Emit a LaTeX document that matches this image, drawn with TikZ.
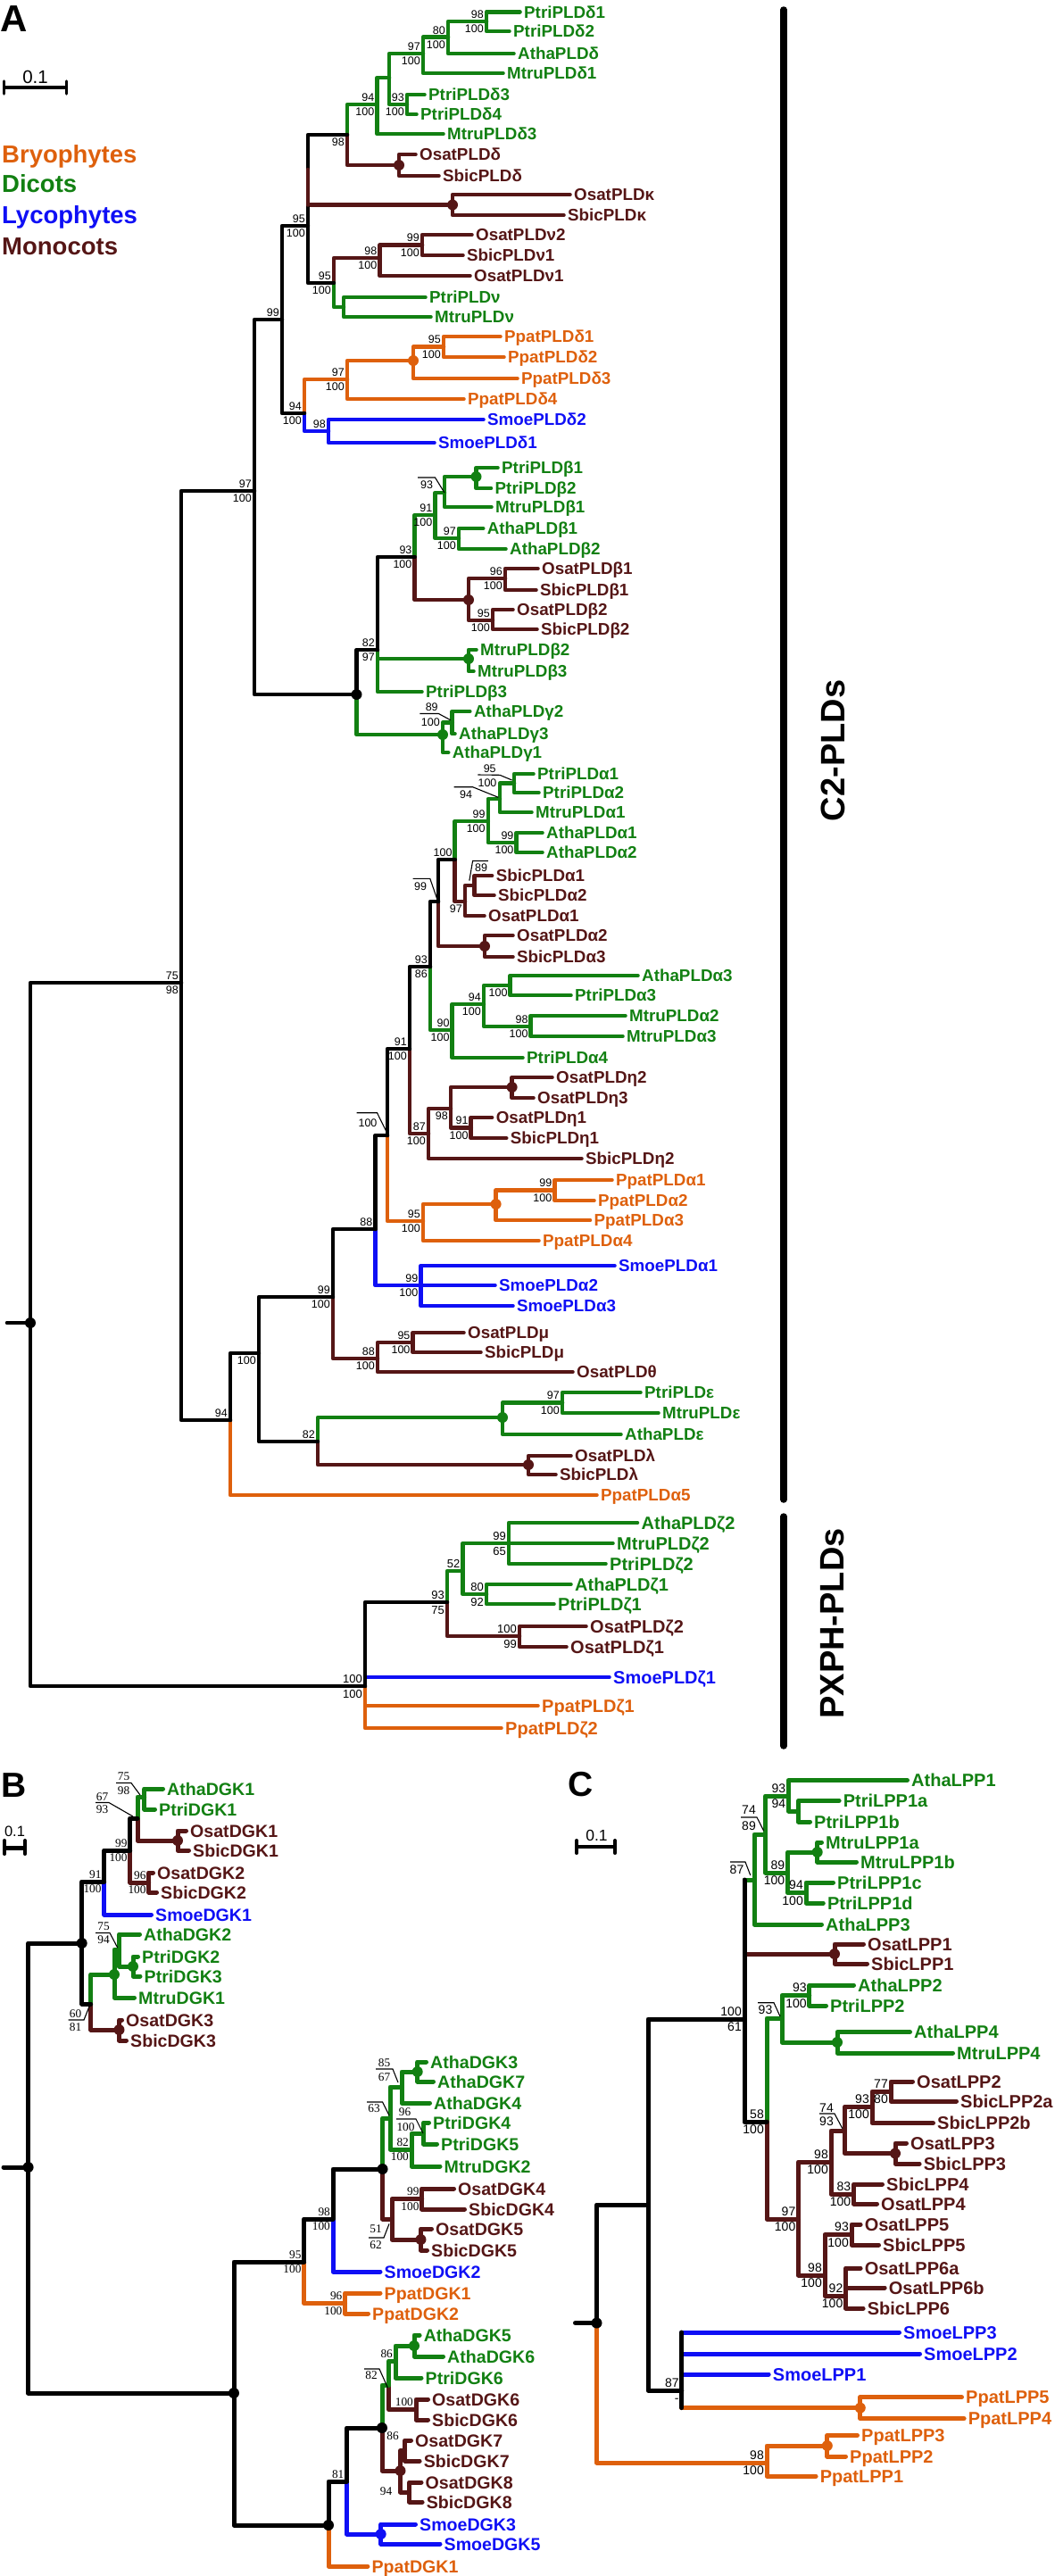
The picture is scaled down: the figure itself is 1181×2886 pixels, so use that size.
\documentclass[tikz,border=0pt]{standalone}
\usepackage{fontspec}
\setmainfont{Liberation Sans}
\newfontfamily\sernum{Liberation Serif}
\definecolor{grn}{RGB}{18,128,18}
\definecolor{org}{RGB}{222,96,12}
\definecolor{blu}{RGB}{15,15,245}
\definecolor{brn}{RGB}{85,22,22}
\newcommand\myleaf[6]{\node[lab,text=#1] (#2) at (#4,#5) {#6};\draw[br,#1] (#3) |- ([xshift=-4.5pt]#2.west);}
\newcommand\myedge[3]{\draw[br,#1] (#2) |- (#3);}
\newcommand\mydot[2]{\fill[#1] (#2) circle (6pt);}
\newcommand\myboot[3]{\path (#1) ++(-3,-3.5) node[num,anchor=south east] (#1-t) {#2} (#1) ++(-3,3.5) node[num,anchor=north east] (#1-u) {#3};}
\newcommand\mytext[4]{\node[num] (#1) at (#2,#3) {#4};}
\begin{document}
\begin{tikzpicture}[x=1pt,y=-1pt]
\useasboundingbox (0,0) rectangle (1181,2886);
% ================= PANEL A =================
\node[anchor=base west,inner sep=0pt,font=\fontsize{42}{44}\selectfont\bfseries] (pA) at (0,35) {A};
\node[anchor=base west,inner sep=0pt,font=\fontsize{27.5}{30}\selectfont\bfseries,text=org] (lg1) at (2,182) {Bryophytes};
\node[anchor=base west,inner sep=0pt,font=\fontsize{27.5}{30}\selectfont\bfseries,text=grn] (lg2) at (2,215) {Dicots};
\node[anchor=base west,inner sep=0pt,font=\fontsize{27.5}{30}\selectfont\bfseries,text=blu] (lg3) at (2,250) {Lycophytes};
\node[anchor=base west,inner sep=0pt,font=\fontsize{27.5}{30}\selectfont\bfseries,text=brn] (lg4) at (2,285) {Monocots};
\coordinate (sa1) at (4.6,98); \coordinate (sa2) at (74.6,98);
\draw[line width=3.5pt] (sa1) -- (sa2);
\draw[line width=3.5pt,line cap=round] (4.6,91) -- (4.6,105) (74.6,91) -- (74.6,105);
\node[anchor=base,inner sep=0pt,font=\fontsize{20.5}{22}\selectfont] (sa) at (39.6,93) {0.1};
\draw[line width=7.5pt,line cap=round] (878,11) -- (878,1680);
\draw[line width=7.5pt,line cap=round] (878,1699) -- (878,1956);
\node[rotate=90,inner sep=0pt,font=\fontsize{38}{40}\selectfont\bfseries] (c2) at (933,841) {C2-PLDs};
\node[rotate=90,inner sep=0pt,font=\fontsize{38}{40}\selectfont\bfseries] (px) at (933,1819) {PXPH-PLDs};

\begin{scope}[br/.style={line width=4.6pt,line cap=round,line join=round},
 lab/.style={anchor=west,inner sep=0pt,font=\fontsize{18.8}{20}\selectfont\bfseries,text height=13.4pt,text depth=0pt},
 num/.style={inner sep=0pt,font=\fontsize{12.5}{13}\selectfont,text height=9pt,text depth=0pt},
 lead/.style={line width=1.1pt}]
\coordinate (Ast) at (8,1482);
\coordinate (Ar) at (34,1482);
\coordinate (N75) at (203,1101);
\coordinate (N97) at (285,550);
\coordinate (N99) at (316,358);
\coordinate (N95a) at (345,253);
\coordinate (N98) at (389,151);
\coordinate (N94d) at (422.5,117);
\coordinate (Nx) at (436,87);
\coordinate (N97d) at (474,60);
\coordinate (N80) at (502,41.7);
\coordinate (N98d) at (545,24);
\coordinate (N93d) at (456,117);
\coordinate (Ndd) at (447,185);
\coordinate (Nk) at (507,229.5);
\coordinate (N95v) at (374,317);
\coordinate (N98v) at (425.5,289);
\coordinate (N99v) at (473,274.5);
\coordinate (Ngv) at (385,344);
\coordinate (N94a) at (341,463);
\coordinate (N97p) at (389,425);
\coordinate (Ndp) at (463,404);
\coordinate (N95p) at (497,388.5);
\coordinate (N98s) at (368,483);
\coordinate (Nbg) at (399.5,778);
\coordinate (N82) at (423,728);
\coordinate (N93b) at (464.6,624);
\coordinate (N91b) at (487.5,577);
\coordinate (N93l) at (498,552);
\coordinate (Ndpb) at (533.5,534);
\coordinate (N97b) at (514,603);
\coordinate (Ndmb) at (525,672);
\coordinate (N96b) at (566,648);
\coordinate (N95b) at (552,695);
\coordinate (Ndm2) at (525,738);
\coordinate (Ngam) at (496,823);
\coordinate (N89g) at (506.7,809.5);
\coordinate (N94b) at (258,1591);
\coordinate (N100c) at (290,1516);
\coordinate (N99c) at (373,1453);
\coordinate (N88a) at (420.5,1377);
\coordinate (N100a) at (434,1272);
\coordinate (N91a) at (459,1175);
\coordinate (N93a) at (482,1083);
\coordinate (N99l) at (491,1010);
\coordinate (N100t) at (509.7,963);
\coordinate (N99d) at (546.8,920);
\coordinate (N94l) at (560,895);
\coordinate (N95l) at (576,877.5);
\coordinate (N99at) at (578.6,944);
\coordinate (N97m) at (521,1010);
\coordinate (N89s) at (531.5,992);
\coordinate (Nda2) at (543,1060);
\coordinate (N90a) at (506.7,1154);
\coordinate (N94a3) at (542,1125);
\coordinate (N100a3) at (571.7,1104);
\coordinate (N98a3) at (594.7,1150);
\coordinate (N87e) at (480,1270);
\coordinate (N98e) at (505,1242);
\coordinate (Nde) at (573.6,1218);
\coordinate (N91e) at (527.7,1263.5);
\coordinate (N95pa) at (474,1368);
\coordinate (Ndpa) at (555.6,1349);
\coordinate (N99pa) at (621.5,1333.5);
\coordinate (N99s) at (471.5,1440);
\coordinate (N88m) at (423,1522);
\coordinate (N95m) at (462.6,1504);
\coordinate (N82c) at (356,1615);
\coordinate (Nde2) at (563,1588);
\coordinate (N97e) at (630,1571.5);
\coordinate (Ndl) at (592,1641);
\coordinate (NPX) at (409,1889);
\coordinate (N93x) at (501,1795);
\coordinate (N52) at (518.6,1760);
\coordinate (N99x) at (570,1729);
\coordinate (N80x) at (545,1786);
\coordinate (N100x) at (582,1833);
% leaves
\myleaf{grn}{a1}{N98d}{587}{13.3}{PtriPLDδ1}
\myleaf{grn}{a2}{N98d}{575}{35}{PtriPLDδ2}
\myleaf{grn}{a3}{N80}{580}{60}{AthaPLDδ}
\myleaf{grn}{a4}{N97d}{568}{82}{MtruPLDδ1}
\myleaf{grn}{a5}{N93d}{480}{106}{PtriPLDδ3}
\myleaf{grn}{a6}{N93d}{471}{128}{PtriPLDδ4}
\myleaf{grn}{a7}{N94d}{501}{150}{MtruPLDδ3}
\myleaf{brn}{a8}{Ndd}{470}{173}{OsatPLDδ}
\myleaf{brn}{a9}{Ndd}{496}{197}{SbicPLDδ}
\myleaf{brn}{a10}{Nk}{643}{218}{OsatPLDκ}
\myleaf{brn}{a11}{Nk}{636}{241}{SbicPLDκ}
\myleaf{brn}{a12}{N99v}{533}{263}{OsatPLDν2}
\myleaf{brn}{a13}{N99v}{523}{286}{SbicPLDν1}
\myleaf{brn}{a14}{N98v}{531}{309}{OsatPLDν1}
\myleaf{grn}{a15}{Ngv}{481}{333}{PtriPLDν}
\myleaf{grn}{a16}{Ngv}{487}{355}{MtruPLDν}
\myleaf{org}{a17}{N95p}{565}{377}{PpatPLDδ1}
\myleaf{org}{a18}{N95p}{569}{400}{PpatPLDδ2}
\myleaf{org}{a19}{Ndp}{584}{424}{PpatPLDδ3}
\myleaf{org}{a20}{N97p}{524}{447}{PpatPLDδ4}
\myleaf{blu}{a21}{N98s}{546}{470}{SmoePLDδ2}
\myleaf{blu}{a22}{N98s}{491}{496}{SmoePLDδ1}
\myleaf{grn}{a23}{Ndpb}{562}{524}{PtriPLDβ1}
\myleaf{grn}{a24}{Ndpb}{554.5}{547}{PtriPLDβ2}
\myleaf{grn}{a25}{N93l}{555}{568}{MtruPLDβ1}
\myleaf{grn}{a26}{N97b}{545.7}{592}{AthaPLDβ1}
\myleaf{grn}{a27}{N97b}{571}{615}{AthaPLDβ2}
\myleaf{brn}{a28}{N96b}{607}{637}{OsatPLDβ1}
\myleaf{brn}{a29}{N96b}{605}{661}{SbicPLDβ1}
\myleaf{brn}{a30}{N95b}{579}{683}{OsatPLDβ2}
\myleaf{brn}{a31}{N95b}{606}{705}{SbicPLDβ2}
\myleaf{grn}{a32}{Ndm2}{538}{728}{MtruPLDβ2}
\myleaf{grn}{a33}{Ndm2}{535}{752}{MtruPLDβ3}
\myleaf{grn}{a34}{N82}{477}{775}{PtriPLDβ3}
\myleaf{grn}{a35}{N89g}{530.8}{797}{AthaPLDγ2}
\myleaf{grn}{a36}{N89g}{514}{822}{AthaPLDγ3}
\myleaf{grn}{a37}{Ngam}{506.7}{843}{AthaPLDγ1}
\myleaf{grn}{a38}{N95l}{602}{867}{PtriPLDα1}
\myleaf{grn}{a39}{N95l}{608}{888}{PtriPLDα2}
\myleaf{grn}{a40}{N94l}{600}{910}{MtruPLDα1}
\myleaf{grn}{a41}{N99at}{612}{933}{AthaPLDα1}
\myleaf{grn}{a42}{N99at}{612}{955}{AthaPLDα2}
\myleaf{brn}{a43}{N89s}{555.6}{981}{SbicPLDα1}
\myleaf{brn}{a44}{N89s}{558}{1003}{SbicPLDα2}
\myleaf{brn}{a45}{N97m}{547}{1026}{OsatPLDα1}
\myleaf{brn}{a46}{Nda2}{579}{1048}{OsatPLDα2}
\myleaf{brn}{a47}{Nda2}{579}{1072}{SbicPLDα3}
\myleaf{grn}{a48}{N100a3}{719}{1093}{AthaPLDα3}
\myleaf{grn}{a49}{N100a3}{644}{1115}{PtriPLDα3}
\myleaf{grn}{a50}{N98a3}{705}{1138}{MtruPLDα2}
\myleaf{grn}{a51}{N98a3}{702}{1161}{MtruPLDα3}
\myleaf{grn}{a52}{N90a}{590}{1185}{PtriPLDα4}
\myleaf{brn}{a53}{Nde}{623}{1207}{OsatPLDη2}
\myleaf{brn}{a54}{Nde}{602}{1230}{OsatPLDη3}
\myleaf{brn}{a55}{N91e}{555.6}{1252}{OsatPLDη1}
\myleaf{brn}{a56}{N91e}{571.7}{1275}{SbicPLDη1}
\myleaf{brn}{a57}{N87e}{656}{1298}{SbicPLDη2}
\myleaf{org}{a58}{N99pa}{690}{1322}{PpatPLDα1}
\myleaf{org}{a59}{N99pa}{670}{1345}{PpatPLDα2}
\myleaf{org}{a60}{Ndpa}{665.5}{1367}{PpatPLDα3}
\myleaf{org}{a61}{N95pa}{608}{1390}{PpatPLDα4}
\myleaf{blu}{a62}{N99s}{693}{1418}{SmoePLDα1}
\myleaf{blu}{a63}{N99s}{559}{1440}{SmoePLDα2}
\myleaf{blu}{a64}{N99s}{579}{1463}{SmoePLDα3}
\myleaf{brn}{a65}{N95m}{524}{1493}{OsatPLDμ}
\myleaf{brn}{a66}{N95m}{543}{1515}{SbicPLDμ}
\myleaf{brn}{a67}{N88m}{646}{1537}{OsatPLDθ}
\myleaf{grn}{a68}{N97e}{722}{1560}{PtriPLDε}
\myleaf{grn}{a69}{N97e}{742}{1583}{MtruPLDε}
\myleaf{grn}{a70}{Nde2}{700}{1607}{AthaPLDε}
\myleaf{brn}{a71}{Ndl}{644}{1631}{OsatPLDλ}
\myleaf{brn}{a72}{Ndl}{627}{1652}{SbicPLDλ}
\myleaf{org}{a73}{N94b}{673}{1675}{PpatPLDα5}
\begin{scope}[lab/.style={anchor=west,inner sep=0pt,font=\fontsize{20}{22}\selectfont\bfseries,text height=14.3pt,text depth=0pt},
 num/.style={inner sep=0pt,font=\fontsize{13}{14}\selectfont,text height=9.3pt,text depth=0pt}]
\myleaf{grn}{a74}{N99x}{718.5}{1706}{AthaPLDζ2}
\myleaf{grn}{a75}{N99x}{691}{1729}{MtruPLDζ2}
\myleaf{grn}{a76}{N99x}{683}{1752}{PtriPLDζ2}
\myleaf{grn}{a77}{N80x}{644}{1775}{AthaPLDζ1}
\myleaf{grn}{a78}{N80x}{625}{1797}{PtriPLDζ1}
\myleaf{brn}{a79}{N100x}{661}{1822}{OsatPLDζ2}
\myleaf{brn}{a80}{N100x}{639}{1845}{OsatPLDζ1}
\myleaf{blu}{a81}{NPX}{687}{1879}{SmoePLDζ1}
\myleaf{org}{a82}{NPX}{607}{1911}{PpatPLDζ1}
\myleaf{org}{a83}{NPX}{566}{1936}{PpatPLDζ2}
\myboot{N93x}{93}{75}
\myboot{N52}{52}{}
\myboot{N99x}{99}{65}
\myboot{N80x}{80}{92}
\myboot{N100x}{100}{99}
\myboot{NPX}{100}{100}
\end{scope}
% coloured internal edges
\myedge{brn}{N95a}{Nk}
\myedge{grn}{N98}{N94d} \myedge{brn}{N98}{Ndd}
\myedge{grn}{N94d}{Nx}
\myedge{grn}{Nx}{N97d} \myedge{grn}{Nx}{N93d}
\myedge{grn}{N97d}{N80}
\myedge{grn}{N80}{N98d}
\myedge{brn}{N95v}{N98v} \myedge{grn}{N95v}{Ngv}
\myedge{brn}{N98v}{N99v}
\myedge{org}{N94a}{N97p} \myedge{blu}{N94a}{N98s}
\myedge{org}{N97p}{Ndp}
\myedge{org}{Ndp}{N95p}
\myedge{grn}{Nbg}{Ngam}
\myedge{grn}{N82}{Ndm2}
\myedge{grn}{N93b}{N91b} \myedge{brn}{N93b}{Ndmb}
\myedge{grn}{N91b}{N93l} \myedge{grn}{N91b}{N97b}
\myedge{grn}{N93l}{Ndpb}
\myedge{brn}{Ndmb}{N96b} \myedge{brn}{Ndmb}{N95b}
\myedge{grn}{Ngam}{N89g}
\myedge{brn}{N99c}{N88m}
\myedge{blu}{N88a}{N99s}
\myedge{org}{N100a}{N95pa}
\myedge{brn}{N91a}{N87e}
\myedge{grn}{N93a}{N90a}
\myedge{brn}{N99l}{Nda2}
\myedge{grn}{N100t}{N99d} \myedge{brn}{N100t}{N97m}
\myedge{grn}{N99d}{N94l} \myedge{grn}{N99d}{N99at}
\myedge{grn}{N94l}{N95l}
\myedge{brn}{N97m}{N89s}
\myedge{grn}{N90a}{N94a3}
\myedge{grn}{N94a3}{N100a3} \myedge{grn}{N94a3}{N98a3}
\myedge{brn}{N87e}{N98e}
\myedge{brn}{N98e}{Nde} \myedge{brn}{N98e}{N91e}
\myedge{org}{N95pa}{Ndpa}
\myedge{org}{Ndpa}{N99pa}
\myedge{brn}{N88m}{N95m}
\myedge{grn}{N82c}{Nde2} \myedge{brn}{N82c}{Ndl}
\myedge{grn}{Nde2}{N97e}
\myedge{grn}{N93x}{N52} \myedge{brn}{N93x}{N100x}
\myedge{grn}{N52}{N99x} \myedge{grn}{N52}{N80x}
% black edges
\draw[br] (Ast) -- (Ar);
\myedge{black}{Ar}{N75} \myedge{black}{Ar}{NPX}
\myedge{black}{N75}{N97} \myedge{black}{N75}{N94b}
\myedge{black}{N97}{N99} \myedge{black}{N97}{Nbg}
\myedge{black}{N99}{N95a} \myedge{black}{N99}{N94a}
\myedge{black}{N95a}{N98} \myedge{black}{N95a}{N95v}
\myedge{black}{Nbg}{N82}
\myedge{black}{N82}{N93b}
\myedge{black}{N94b}{N100c}
\myedge{black}{N100c}{N99c} \myedge{black}{N100c}{N82c}
\myedge{black}{N99c}{N88a}
\myedge{black}{N88a}{N100a}
\myedge{black}{N100a}{N91a}
\myedge{black}{N91a}{N93a}
\myedge{black}{N93a}{N99l}
\myedge{black}{N99l}{N100t}
\myedge{black}{NPX}{N93x}
\draw[br,brn] (345,190) -- (Nk -| N95a);
% dots
\mydot{brn}{Ndd} \mydot{brn}{Nk} \mydot{org}{Ndp} \mydot{grn}{Ndpb} \mydot{brn}{Ndmb}
\mydot{grn}{Ndm2} \mydot{grn}{Ngam} \mydot{black}{Nbg} \mydot{brn}{Nda2} \mydot{brn}{Nde}
\mydot{org}{Ndpa} \mydot{grn}{Nde2} \mydot{brn}{Ndl} \mydot{black}{Ar}
% bootstrap values
\myboot{N98d}{98}{100} \myboot{N80}{80}{100} \myboot{N97d}{97}{100} \myboot{N93d}{93}{100}
\myboot{N94d}{94}{100} \myboot{N98}{}{98} \myboot{N95a}{95}{100} \myboot{N99v}{99}{100}
\myboot{N98v}{98}{100} \myboot{N95v}{95}{100} \myboot{N99}{99}{} \myboot{N95p}{95}{100}
\myboot{N97p}{97}{100} \myboot{N94a}{94}{100} \myboot{N98s}{98}{} \myboot{N97}{97}{100}
\myboot{N91b}{91}{100} \myboot{N97b}{97}{100} \myboot{N93b}{93}{100} \myboot{N96b}{96}{100}
\myboot{N95b}{95}{100} \myboot{N82}{82}{97} \myboot{N99d}{99}{100} \myboot{N99at}{99}{100}
\myboot{N100t}{100}{} \myboot{N97m}{}{97} \myboot{N93a}{93}{86} \myboot{N94a3}{94}{100}
\myboot{N100a3}{}{100} \myboot{N98a3}{98}{100} \myboot{N90a}{90}{100} \myboot{N91a}{91}{100}
\myboot{N87e}{87}{100} \myboot{N98e}{}{98} \myboot{N91e}{91}{100} \myboot{N99pa}{99}{100}
\myboot{N95pa}{95}{100} \myboot{N88a}{88}{} \myboot{N99s}{99}{100} \myboot{N99c}{99}{100}
\myboot{N95m}{95}{100} \myboot{N88m}{88}{100} \myboot{N100c}{}{100} \myboot{N97e}{97}{100}
\myboot{N82c}{82}{} \myboot{N94b}{94}{} \myboot{N75}{75}{98}
% leader labels
\mytext{ta1}{478}{543}{93} \draw[lead] (468,535) -- (487.5,535) -- (N93l);
\mytext{ta2}{483.7}{791.5}{89} \mytext{ta3}{482.4}{809}{100} \draw[lead] (470.3,799.5) -- (491.4,799.5) -- (504.7,806.7);
\mytext{ta4}{548.7}{860.7}{95} \mytext{ta5}{546}{876.7}{100} \draw[lead] (535.4,868) -- (560,868.3) -- (573.6,874);
\mytext{ta6}{522}{890}{94} \draw[lead] (508.6,881.7) -- (529.6,881.7) -- (558.3,893.3);
\mytext{ta7}{539}{972}{89} \draw[lead] (546.8,964.5) -- (529.6,964.5) -- (525.8,986.7);
\mytext{ta8}{471}{993}{99} \draw[lead] (462.6,984.3) -- (481.8,984.3) -- (490,1008);
\mytext{ta9}{412}{1258}{100} \draw[lead] (399.5,1246.7) -- (422.5,1246.7) -- (433,1268);
\end{scope}

% ================= PANEL B =================
\node[anchor=base west,inner sep=0pt,font=\fontsize{39}{42}\selectfont\bfseries] (pB) at (1,2013) {B};
\draw[line width=5pt] (5,2070) -- (28,2070);
\draw[line width=4pt,line cap=round] (5,2062) -- (5,2077) (28,2062) -- (28,2077);
\node[anchor=base,inner sep=0pt,font=\fontsize{16.5}{18}\selectfont] (sb) at (16.5,2057) {0.1};
\begin{scope}[br/.style={line width=5pt,line cap=round,line join=round},
 lab/.style={anchor=west,inner sep=0pt,font=\fontsize{19.6}{22}\selectfont\bfseries,text height=14pt,text depth=0pt},
 num/.style={inner sep=0pt,font=\sernum\fontsize{13.3}{14}\selectfont,text height=9pt,text depth=0pt},
 lead/.style={line width=1.1pt}]
\coordinate (Bst) at (4,2428);
\coordinate (Br) at (31.6,2428);
\coordinate (NB1) at (91.7,2177);
\coordinate (NB91) at (116.7,2108);
\coordinate (NB99) at (145.7,2073);
\coordinate (NB67) at (154,2037);
\coordinate (NB75) at (161.7,2013);
\coordinate (NBd1) at (199,2062);
\coordinate (NB96) at (166.7,2109);
\coordinate (NB60) at (101.7,2245);
\coordinate (NBg1) at (128,2212);
\coordinate (NB75b) at (133.5,2184);
\coordinate (NBdp) at (149,2203);
\coordinate (NBd3) at (133.5,2274);
\coordinate (NB2) at (262,2681);
\coordinate (NB95) at (340.6,2534);
\coordinate (NB98) at (373,2486);
\coordinate (NBD) at (428.6,2430);
\coordinate (NBE) at (437,2373);
\coordinate (NBG3) at (450,2338);
\coordinate (NBd37) at (467.7,2321);
\coordinate (NB82) at (461,2408);
\coordinate (NB96t) at (474.6,2390);
\coordinate (NBF) at (439,2486);
\coordinate (NB99b) at (472.6,2463.5);
\coordinate (NBd5) at (471.5,2509);
\coordinate (NB96p) at (386.5,2580.5);
\coordinate (NBdL) at (368,2829);
\coordinate (NB81) at (388.5,2780);
\coordinate (NBdU) at (428,2720);
\coordinate (NB82b) at (435.5,2672);
\coordinate (NB86) at (443,2645);
\coordinate (NBd56) at (464,2628);
\coordinate (NB100b) at (466,2699.5);
\coordinate (NBd78) at (448.5,2768);
\coordinate (NB86b) at (453.5,2745.5);
\coordinate (NB94) at (458.5,2792);
\coordinate (NBdS) at (426.7,2839);
\myleaf{grn}{b1}{NB75}{187}{2004}{AthaDGK1}
\myleaf{grn}{b2}{NB75}{178}{2027}{PtriDGK1}
\myleaf{brn}{b3}{NBd1}{213}{2051}{OsatDGK1}
\myleaf{brn}{b4}{NBd1}{216}{2073}{SbicDGK1}
\myleaf{brn}{b5}{NB96}{176}{2098}{OsatDGK2}
\myleaf{brn}{b6}{NB96}{180}{2120}{SbicDGK2}
\myleaf{blu}{b7}{NB91}{174}{2145}{SmoeDGK1}
\myleaf{grn}{b8}{NB75b}{161}{2167}{AthaDGK2}
\myleaf{grn}{b9}{NBdp}{159}{2192}{PtriDGK2}
\myleaf{grn}{b10}{NBdp}{161.5}{2214}{PtriDGK3}
\myleaf{grn}{b11}{NBg1}{155}{2238}{MtruDGK1}
\myleaf{brn}{b12}{NBd3}{141}{2263}{OsatDGK3}
\myleaf{brn}{b13}{NBd3}{146}{2286}{SbicDGK3}
\myleaf{grn}{b14}{NBd37}{482}{2310}{AthaDGK3}
\myleaf{grn}{b15}{NBd37}{490}{2332}{AthaDGK7}
\myleaf{grn}{b16}{NBG3}{486}{2356}{AthaDGK4}
\myleaf{grn}{b17}{NB96t}{485}{2378}{PtriDGK4}
\myleaf{grn}{b18}{NB96t}{494}{2402}{PtriDGK5}
\myleaf{grn}{b19}{NB82}{497.5}{2427}{MtruDGK2}
\myleaf{brn}{b20}{NB99b}{513}{2452}{OsatDGK4}
\myleaf{brn}{b21}{NB99b}{525}{2475}{SbicDGK4}
\myleaf{brn}{b22}{NBd5}{488}{2497}{OsatDGK5}
\myleaf{brn}{b23}{NBd5}{483}{2521}{SbicDGK5}
\myleaf{blu}{b24}{NB98}{430.5}{2545}{SmoeDGK2}
\myleaf{org}{b25}{NB96p}{430.5}{2569}{PpatDGK1}
\myleaf{org}{b26}{NB96p}{417}{2592}{PpatDGK2}
\myleaf{grn}{b27}{NBd56}{474.6}{2616}{AthaDGK5}
\myleaf{grn}{b28}{NBd56}{501}{2640}{AthaDGK6}
\myleaf{grn}{b29}{NB86}{476.5}{2664}{PtriDGK6}
\myleaf{brn}{b30}{NB100b}{484}{2688}{OsatDGK6}
\myleaf{brn}{b31}{NB100b}{484}{2711}{SbicDGK6}
\myleaf{brn}{b32}{NB86b}{465}{2734}{OsatDGK7}
\myleaf{brn}{b33}{NB86b}{474.6}{2757}{SbicDGK7}
\myleaf{brn}{b34}{NB94}{476.5}{2781}{OsatDGK8}
\myleaf{brn}{b35}{NB94}{477.6}{2803}{SbicDGK8}
\myleaf{blu}{b36}{NBdS}{470}{2828}{SmoeDGK3}
\myleaf{blu}{b37}{NBdS}{497.5}{2850}{SmoeDGK5}
\myleaf{org}{b38}{NBdL}{416.4}{2875}{PpatDGK1}
\myedge{brn}{NB99}{NB96} \myedge{brn}{NB67}{NBd1} \myedge{brn}{NB60}{NBd3}
\myedge{brn}{NBD}{NBF} \myedge{brn}{NBF}{NB99b} \myedge{brn}{NBF}{NBd5}
\myedge{brn}{NBdU}{NBd78} \myedge{brn}{NB82b}{NB100b}
\myedge{brn}{NBd78}{NB86b} \myedge{brn}{NBd78}{NB94}
\myedge{grn}{NB67}{NB75} \myedge{grn}{NB60}{NBg1} \myedge{grn}{NBg1}{NB75b}
\myedge{grn}{NB75b}{NBdp} \myedge{grn}{NBD}{NBE} \myedge{grn}{NBE}{NBG3}
\myedge{grn}{NBE}{NB82} \myedge{grn}{NBG3}{NBd37} \myedge{grn}{NB82}{NB96t}
\myedge{grn}{NBdU}{NB82b} \myedge{grn}{NB82b}{NB86} \myedge{grn}{NB86}{NBd56}
\myedge{org}{NB95}{NB96p}
\myedge{blu}{NB81}{NBdS}
\draw[br] (Bst) -- (Br);
\myedge{black}{Br}{NB1} \myedge{black}{Br}{NB2}
\myedge{black}{NB1}{NB91} \myedge{black}{NB1}{NB60}
\myedge{black}{NB91}{NB99} \myedge{black}{NB99}{NB67}
\myedge{black}{NB2}{NB95} \myedge{black}{NB2}{NBdL}
\myedge{black}{NB95}{NB98} \myedge{black}{NB98}{NBD}
\myedge{black}{NBdL}{NB81} \myedge{black}{NB81}{NBdU}
\mydot{black}{NB1} \mydot{brn}{NBd1} \mydot{grn}{NBg1} \mydot{grn}{NBdp} \mydot{brn}{NBd3}
\mydot{black}{Br} \mydot{black}{NB2} \mydot{black}{NBD} \mydot{grn}{NBd37} \mydot{brn}{NBd5}
\mydot{black}{NBdL} \mydot{black}{NBdU} \mydot{grn}{NBd56} \mydot{brn}{NBd78} \mydot{blu}{NBdS}
\myboot{NB91}{91}{100} \myboot{NB99}{99}{100} \myboot{NB96}{96}{100} \myboot{NB95}{95}{100}
\myboot{NB98}{98}{100} \myboot{NB82}{82}{100} \myboot{NB99b}{99}{100} \myboot{NB96p}{96}{100}
\myboot{NB81}{81}{} \myboot{NB86}{86}{} \myboot{NB100b}{100}{}
\mytext{tb1}{440}{2729}{86} \mytext{tb2}{432.5}{2791}{94}
\mytext{tb3}{138.5}{1990}{75} \mytext{tb4}{138.5}{2006}{98} \draw[lead] (130,1997.5) -- (147,1997.5) -- (157,2011);
\mytext{tb5}{114.5}{2013}{67} \mytext{tb6}{114.5}{2027}{93} \draw[lead] (107,2019.5) -- (122,2019.5) -- (149,2035);
\mytext{tb7}{116}{2158}{75} \mytext{tb8}{116}{2173}{94} \draw[lead] (107,2165.5) -- (123,2165.5) -- (131.7,2182);
\mytext{tb9}{84.5}{2256}{60} \mytext{tb10}{84.5}{2271}{81} \draw[lead] (76.5,2263) -- (94,2263) -- (100,2248);
\mytext{tb11}{430.5}{2311}{85} \mytext{tb12}{430.5}{2327}{67} \draw[lead] (421,2318) -- (440,2318) -- (446,2333);
\mytext{tb13}{419}{2362}{63} \draw[lead] (411,2355) -- (428.6,2355) -- (436,2370);
\mytext{tb14}{453.5}{2366}{96} \mytext{tb15}{454.5}{2383}{100} \draw[lead] (444,2374) -- (466,2374) -- (474,2390);
\mytext{tb16}{421}{2497}{51} \mytext{tb17}{421}{2515}{62} \draw[lead] (413,2507) -- (430,2507) -- (436,2491.5);
\mytext{tb18}{416}{2661}{82} \draw[lead] (408,2654) -- (425,2654) -- (434.4,2675);
\end{scope}

% ================= PANEL C =================
\node[anchor=base west,inner sep=0pt,font=\fontsize{39}{42}\selectfont\bfseries] (pC) at (636,2012) {C};
\draw[line width=4.5pt] (646,2069) -- (689,2069);
\draw[line width=4pt,line cap=round] (646,2062) -- (646,2076) (689,2062) -- (689,2076);
\node[anchor=base,inner sep=0pt,font=\fontsize{17.5}{19}\selectfont] (sc) at (668.5,2062) {0.1};
\begin{scope}[br/.style={line width=5pt,line cap=round,line join=round},
 lab/.style={anchor=west,inner sep=0pt,font=\fontsize{20}{22}\selectfont\bfseries,text height=14.3pt,text depth=0pt},
 num/.style={inner sep=0pt,font=\fontsize{14}{15}\selectfont,text height=10pt,text depth=0pt},
 lead/.style={line width=1.1pt}]
\coordinate (Cst) at (644.5,2602.5);
\coordinate (Cr) at (668.5,2602.5);
\coordinate (NC1) at (726,2470);
\coordinate (NC100) at (834,2262);
\coordinate (NCG) at (845,2106);
\coordinate (NC74) at (857.5,2055);
\coordinate (NC93) at (883.4,2012);
\coordinate (NC1ab) at (894.5,2029);
\coordinate (NC89) at (882.3,2098);
\coordinate (NCdM) at (915.7,2075);
\coordinate (NC94) at (903,2120.5);
\coordinate (NCd1) at (935,2189);
\coordinate (NC58) at (859,2377);
\coordinate (NC93g) at (876,2261);
\coordinate (NC93a) at (906.8,2235.5);
\coordinate (NCd4) at (938,2288);
\coordinate (NC97) at (894.5,2486);
\coordinate (NC98b) at (931,2422);
\coordinate (NC74b) at (946.4,2387);
\coordinate (NC93b) at (977,2360);
\coordinate (NC77) at (998,2343);
\coordinate (NCd3) at (1003,2412.5);
\coordinate (NC83) at (956.4,2458);
\coordinate (NC98c) at (924,2549);
\coordinate (NC93c) at (954,2503.5);
\coordinate (NC92) at (947.5,2572);
\coordinate (NC87) at (763.8,2678);
\coordinate (NCdP) at (963.8,2697.6);
\coordinate (NC98) at (859,2759);
\coordinate (NCdP2) at (926.8,2740);
\myleaf{grn}{c1}{NC93}{1021}{1994.5}{AthaLPP1}
\myleaf{grn}{c2}{NC1ab}{944.6}{2017.3}{PtriLPP1a}
\myleaf{grn}{c3}{NC1ab}{912}{2041}{PtriLPP1b}
\myleaf{grn}{c4}{NCdM}{925}{2064}{MtruLPP1a}
\myleaf{grn}{c5}{NCdM}{964}{2086}{MtruLPP1b}
\myleaf{grn}{c6}{NC94}{938}{2109}{PtriLPP1c}
\myleaf{grn}{c7}{NC94}{926.8}{2132}{PtriLPP1d}
\myleaf{grn}{c8}{NCG}{925}{2156}{AthaLPP3}
\myleaf{brn}{c9}{NCd1}{972}{2178}{OsatLPP1}
\myleaf{brn}{c10}{NCd1}{976}{2200}{SbicLPP1}
\myleaf{grn}{c11}{NC93a}{961}{2224}{AthaLPP2}
\myleaf{grn}{c12}{NC93a}{930}{2247}{PtriLPP2}
\myleaf{grn}{c13}{NCd4}{1024}{2276.5}{AthaLPP4}
\myleaf{grn}{c14}{NCd4}{1072}{2300}{MtruLPP4}
\myleaf{brn}{c15}{NC77}{1027}{2332}{OsatLPP2}
\myleaf{brn}{c16}{NC77}{1076}{2354}{SbicLPP2a}
\myleaf{brn}{c17}{NC93b}{1050}{2378.5}{SbicLPP2b}
\myleaf{brn}{c18}{NCd3}{1020}{2401}{OsatLPP3}
\myleaf{brn}{c19}{NCd3}{1034.6}{2424}{SbicLPP3}
\myleaf{brn}{c20}{NC83}{993}{2447}{SbicLPP4}
\myleaf{brn}{c21}{NC83}{987}{2469}{OsatLPP4}
\myleaf{brn}{c22}{NC93c}{968.6}{2492}{OsatLPP5}
\myleaf{brn}{c23}{NC93c}{989}{2515}{SbicLPP5}
\myleaf{brn}{c24}{NC92}{968.6}{2541}{OsatLPP6a}
\myleaf{brn}{c25}{NC92}{995.7}{2563}{OsatLPP6b}
\myleaf{brn}{c26}{NC92}{971.6}{2586}{SbicLPP6}
\myleaf{blu}{c27}{NC87}{1012}{2613}{SmoeLPP3}
\myleaf{blu}{c28}{NC87}{1035}{2637}{SmoeLPP2}
\myleaf{blu}{c29}{NC87}{865.7}{2660}{SmoeLPP1}
\myleaf{org}{c30}{NCdP}{1082}{2685.6}{PpatLPP5}
\myleaf{org}{c31}{NCdP}{1084.6}{2709.6}{PpatLPP4}
\myleaf{org}{c32}{NCdP2}{965}{2728.4}{PpatLPP3}
\myleaf{org}{c33}{NCdP2}{952}{2752}{PpatLPP2}
\myleaf{org}{c34}{NC98}{918.6}{2774}{PpatLPP1}
\myedge{grn}{NC100}{NCG} \myedge{grn}{NCG}{NC74} \myedge{grn}{NC74}{NC93}
\myedge{grn}{NC74}{NC89} \myedge{grn}{NC93}{NC1ab} \myedge{grn}{NC89}{NCdM}
\myedge{grn}{NC89}{NC94} \myedge{grn}{NC58}{NC93g} \myedge{grn}{NC93g}{NC93a}
\myedge{grn}{NC93g}{NCd4}
\myedge{brn}{NC100}{NCd1} \myedge{brn}{NC58}{NC97} \myedge{brn}{NC97}{NC98b}
\myedge{brn}{NC97}{NC98c} \myedge{brn}{NC98b}{NC74b} \myedge{brn}{NC98b}{NC83}
\myedge{brn}{NC74b}{NC93b} \myedge{brn}{NC74b}{NCd3} \myedge{brn}{NC93b}{NC77}
\myedge{brn}{NC98c}{NC93c} \myedge{brn}{NC98c}{NC92}
\myedge{org}{Cr}{NC98} \myedge{org}{NC98}{NCdP2} \myedge{org}{NC87}{NCdP}
\draw[br] (Cst) -- (Cr);
\myedge{black}{Cr}{NC1} \myedge{black}{NC1}{NC100} \myedge{black}{NC1}{NC87}
\myedge{black}{NC100}{NC58}
\draw[br] (NCG -| NC100) -- (NC58 -| NC100);
\draw[br] (c27 -| NC87) -- (NCdP -| NC87);
\mydot{black}{Cr} \mydot{grn}{NCdM} \mydot{brn}{NCd1} \mydot{grn}{NCd4} \mydot{brn}{NCd3}
\mydot{org}{NCdP} \mydot{org}{NCdP2}
\myboot{NC100}{100}{61} \myboot{NC93}{93}{94} \myboot{NC89}{89}{100} \myboot{NC94}{94}{100}
\myboot{NC58}{58}{100} \myboot{NC93a}{93}{100} \myboot{NC97}{97}{100} \myboot{NC98b}{98}{100}
\myboot{NC93b}{93}{100} \myboot{NC77}{77}{80} \myboot{NC83}{83}{100} \myboot{NC98c}{98}{100}
\myboot{NC93c}{93}{100} \myboot{NC92}{92}{100} \myboot{NC98}{98}{100} \myboot{NC87}{87}{-}
\mytext{tc1}{825.5}{2094}{87} \draw[lead] (818,2086) -- (835,2086) -- (840.8,2101);
\mytext{tc2}{839}{2027.7}{74} \mytext{tc3}{839}{2045}{89} \draw[lead] (830,2036) -- (848,2036) -- (855.6,2051);
\mytext{tc4}{857.5}{2251.6}{93} \draw[lead] (849,2243.7) -- (867,2243.7) -- (874,2259);
\mytext{tc5}{926}{2361}{74} \mytext{tc6}{926}{2376}{93} \draw[lead] (918,2368) -- (935,2368) -- (943.8,2384.6);
\end{scope}
\end{tikzpicture}
\end{document}
